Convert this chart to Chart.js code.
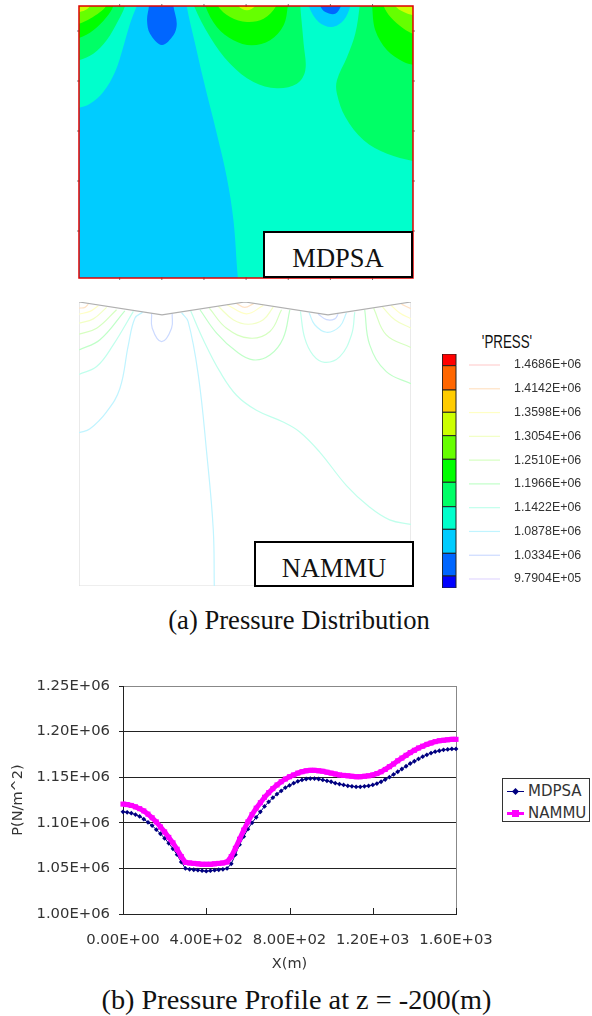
<!DOCTYPE html>
<html>
<head>
<meta charset="utf-8">
<title>Pressure distribution and profile</title>
<script src="https://cdn.jsdelivr.net/npm/chart.js@4"></script>
<style>
    html, body { margin: 0; padding: 0; background: #fff; }
    #page { position: relative; width: 592px; height: 1016px; overflow: hidden; }
    canvas { position: absolute; }
    .tag, .caption, #press, #legend { position: absolute; }
    .tag {
        box-sizing: border-box;
        background: #fff;
        border: 2px solid #000;
        font-family: "Liberation Serif", serif;
        font-size: 26.5px;
        text-align: center;
        color: #111;
    }
    .caption {
        left: 0;
        font-family: "Liberation Serif", serif;
        font-size: 26.6px;
        text-align: center;
        white-space: nowrap;
        color: #111;
    }
    #press {
        left: 467px; top: 332px; width: 80px;
        font-family: "Liberation Sans", sans-serif;
        font-size: 18px;
        transform: scaleX(0.74);
        text-align: center;
        color: #111;
    }
    #legend {
        box-sizing: border-box;
        left: 502px; top: 778px; width: 88px; height: 44px;
        border: 1px solid #333;
        font-family: "DejaVu Sans", sans-serif;
        font-size: 15px;
        color: #333;
    }
    #legend .row { position: absolute; left: 25px; white-space: nowrap; line-height: 18px; }
    #legend i { position: absolute; display: block; }
</style>
</head>
<body>
<div id="page">
    <canvas id="mdpsa-chart" width="338" height="276" style="left:77px;top:4px"></canvas>
    <div class="tag" style="left:263px;top:231px;width:150px;height:47px;line-height:51px">MDPSA</div>

    <canvas id="nammu-chart" width="336" height="288" style="left:77px;top:300px"></canvas>
    <div class="tag" style="left:254px;top:541px;width:160px;height:46px;line-height:50px">NAMMU</div>

    <div id="press">'PRESS'</div>
    <canvas id="scale-chart" width="149" height="236" style="left:441px;top:353px"></canvas>

    <div class="caption" style="top:605px;width:598px">(a) Pressure Distribution</div>

    <canvas id="profile-chart" width="500" height="310" style="left:0;top:670px"></canvas>
    <div id="legend">
        <i style="left:4px;top:12px;width:17px;height:1px;background:#000080"></i>
        <i style="left:10px;top:10px;width:5px;height:5px;background:#000080;transform:rotate(45deg)"></i>
        <div class="row" style="top:3px">MDPSA</div>
        <i style="left:4px;top:33px;width:17px;height:3px;background:#ff00ff"></i>
        <i style="left:9px;top:31px;width:7px;height:7px;background:#ff00ff"></i>
        <div class="row" style="top:25px">NAMMU</div>
    </div>

    <div class="caption" style="top:984px;width:593px;font-size:28.3px">(b) Pressure Profile at z = -200(m)</div>
</div>

<script>
// ---- data ----

// Profile at z = -200, one value every 20 m
const profileX = [];
for (let i = 0; i <= 80; i++) {
    profileX.push(i * 20);
}

const mdpsaValues = [
    1112000, 1111500, 1110500, 1109000, 1107000, 1104000, 1100500, 1097000, 1092500, 1088000,
    1083000, 1077500, 1071500, 1065000, 1057000, 1050000, 1049000, 1048500, 1048000, 1047500,
    1047000, 1047500, 1048000, 1048500, 1049000, 1050000, 1055000, 1065000, 1076000, 1085000,
    1093000, 1100000, 1106000, 1112000, 1118000, 1123000, 1127500, 1131500, 1135000, 1138500,
    1141000, 1143500, 1145500, 1147000, 1148000, 1148500, 1148500, 1148000, 1147000, 1146000,
    1145000, 1143500, 1142500, 1141500, 1140500, 1140000, 1139500, 1139500, 1140000, 1140500,
    1141500, 1143000, 1145000, 1147500, 1150000, 1153000, 1156000, 1159000, 1162000, 1165000,
    1167500, 1170000, 1172500, 1174500, 1176500, 1178000, 1179000, 1180000, 1180500, 1181000,
    1181000
];

const nammuValues = [
    1120500, 1120000, 1119000, 1117500, 1115500, 1113000, 1109500, 1105500, 1101000, 1095500,
    1090000, 1084000, 1078000, 1071000, 1063000, 1056500, 1056000, 1055500, 1055000, 1054500,
    1054500, 1054500, 1055000, 1055500, 1056000, 1057000, 1063000, 1072000, 1082000, 1092000,
    1101000, 1109000, 1116000, 1122000, 1128000, 1133000, 1137500, 1141500, 1145000, 1148000,
    1150500, 1152500, 1154500, 1156000, 1157000, 1157500, 1157500, 1157000, 1156500, 1155500,
    1154500, 1153500, 1152500, 1152000, 1151500, 1151000, 1150500, 1150500, 1151000, 1151500,
    1152500, 1154000, 1156000, 1158500, 1161500, 1164500, 1168000, 1171000, 1174000, 1177000,
    1179500, 1182000, 1184000, 1186000, 1187500, 1189000, 1190000, 1190500, 1191000, 1191500,
    1191500
];

// Pressure levels of the colour scale
const levels = [979040, 1033400, 1087800, 1142200, 1196600, 1251000, 1305400, 1359800, 1414200, 1468600];
const levelLabels = ['9.7904E+05', '1.0334E+06', '1.0878E+06', '1.1422E+06', '1.1966E+06',
    '1.2510E+06', '1.3054E+06', '1.3598E+06', '1.4142E+06', '1.4686E+06'];
// the colour bar is drawn a little out of step with the labels in the picture
const bandEdges = [958450, 985900, 1037800, 1092700, 1144400, 1200300, 1252900, 1306900, 1360400, 1411400, 1467000, 1493760];
const bandColors = ['#0000ff', '#0066ff', '#00ccff', '#00ffcc', '#00ff66', '#00ff00',
    '#66ff00', '#ccff00', '#ffcc00', '#ff6600', '#ff0000'];
const levelLineColors = ['#e2d8ff', '#ccdaff', '#c0f4ff', '#c0ffec', '#c0ffc8', '#d6ffc0',
    '#f2ffc4', '#ffffc4', '#ffe2c4', '#ffd0d0'];

// MDPSA filled contours, [x, z] in m
const fullDomain = [[-30, 30], [1630, 30], [1630, -1130], [-30, -1130]];
const blueRegion = [[281, 30], [518, 30], [518, 0], [558, -151], [598, -297], [661, -511], [708, -684], [740, -857], [761, -1088], [770, -1130], [-30, -1130], [-30, -407], [7, -407], [59, -391], [122, -344], [178, -264], [217, -164], [249, -71], [281, 0]];
const leftBand1 = [[-30, 30], [225, 30], [225, 0], [194, -57], [138, -137], [75, -191], [7, -217], [-30, -220]];
const leftBand2 = [[-30, 30], [170, 30], [170, 0], [138, -44], [75, -97], [7, -128], [-30, -130]];
const leftBand3 = [[-30, 30], [135, 30], [135, 0], [107, -24], [59, -51], [7, -71], [-30, -75]];
const leftBand4 = [[-30, 30], [59, 30], [59, 0], [35, -17], [7, -24], [-30, -26]];
const lowBubble = [[339, 30], [339, 0], [330, -57], [344, -111], [400, -156], [455, -117], [471, -71], [455, 0], [455, 30]];
const midBand1 = [[553, 30], [553, 0], [629, -124], [724, -231], [835, -304], [946, -329], [1041, -311], [1081, -257], [1073, -151], [1057, 0], [1057, 30]];
const midBand2 = [[606, 30], [606, 0], [661, -84], [740, -137], [827, -157], [914, -137], [978, -77], [998, 0], [998, 30]];
const midBand3 = [[666, 30], [666, 0], [724, -44], [804, -64], [883, -51], [943, 0], [943, 30]];
const midBand4 = [[764, 30], [764, 0], [804, -17], [843, 0], [843, 30]];
const dipBand1 = [[1097, 30], [1097, 0], [1144, -64], [1207, -84], [1263, -57], [1295, 0], [1295, 30]];
const dipBand2 = [[1152, 30], [1152, 0], [1176, -24], [1223, -31], [1250, 0], [1250, 30]];
const rightBand1 = [[1339, 30], [1339, 0], [1318, -111], [1279, -204], [1231, -297], [1231, -351], [1271, -444], [1358, -537], [1469, -591], [1592, -620], [1630, -625], [1630, 30]];
const rightBand2 = [[1398, 30], [1398, 0], [1413, -97], [1469, -177], [1548, -224], [1592, -235], [1630, -238], [1630, 30]];
const rightBand3 = [[1453, 30], [1453, 0], [1485, -44], [1548, -91], [1592, -111], [1630, -118], [1630, 30]];
const rightBand4 = [[1508, 30], [1508, 0], [1548, -24], [1592, -37], [1630, -42], [1630, 30]];

const mdpsaRegions = [
    [fullDomain, '#00ffcc'], [blueRegion, '#00ccff'], [lowBubble, '#0066ff'],
    [leftBand1, '#00ff66'], [leftBand2, '#00ff00'], [leftBand3, '#66ff00'], [leftBand4, '#ccff00'],
    [midBand1, '#00ff66'], [midBand2, '#00ff00'], [midBand3, '#66ff00'], [midBand4, '#ccff00'],
    [dipBand1, '#00ccff'], [dipBand2, '#0066ff'],
    [rightBand1, '#00ff66'], [rightBand2, '#00ff00'], [rightBand3, '#66ff00'], [rightBand4, '#ccff00']
];

// NAMMU contour lines, [x, z] in m
const surface = [[0, 0], [400, -48], [800, 0], [1200, -48], [1600, 0]];
const domainEdge = [[0, 0], [0, -1060], [1600, -1060], [1600, 0]];
const leftLine1 = [[0, -23], [29, -20], [45, -8]];
const leftLine2 = [[0, -45], [53, -35], [93, -14]];
const leftLine3 = [[0, -79], [69, -63], [133, -20]];
const leftLine4 = [[0, -120], [85, -98], [181, -29]];
const leftLine5 = [[0, -179], [101, -141], [221, -33]];
const leftLine6 = [[0, -270], [85, -241], [165, -160], [262, -35]];
const leftLine7 = [[0, -488], [53, -473], [133, -410], [197, -323], [238, -160], [270, -60], [307, -38]];
const bubbleLine = [[350, -43], [353, -98], [398, -148], [446, -98], [449, -43]];
const centerLine = [[494, -40], [526, -73], [575, -273], [615, -560], [647, -848], [652, -1060]];
const longLine = [[538, -33], [599, -141], [679, -260], [759, -348], [855, -404], [984, -448], [1064, -485], [1160, -560], [1289, -685], [1401, -766], [1497, -813], [1600, -830]];
const midLine1 = [[583, -29], [663, -116], [759, -185], [839, -216], [920, -198], [984, -135], [1016, -29]];
const midLine2 = [[628, -23], [711, -98], [823, -135], [920, -110], [976, -29]];
const midLine3 = [[671, -16], [743, -66], [815, -83], [888, -66], [936, -19]];
const midLine4 = [[714, -10], [807, -44], [888, -13]];
const midLine5 = [[759, -5], [799, -20], [843, -5]];
const dipLine1 = [[1067, -35], [1088, -135], [1128, -198], [1184, -225], [1257, -204], [1313, -123], [1329, -38]];
const dipLine2 = [[1109, -40], [1136, -85], [1193, -113], [1257, -91], [1289, -40]];
const dipLine3 = [[1152, -45], [1193, -66], [1233, -63], [1249, -44]];
const rightLine1 = [[1377, -29], [1401, -160], [1481, -260], [1600, -305]];
const rightLine2 = [[1420, -23], [1481, -123], [1600, -170]];
const rightLine3 = [[1462, -18], [1522, -66], [1600, -98]];
const rightLine4 = [[1505, -13], [1546, -41], [1600, -63]];
const rightLine5 = [[1554, -8], [1600, -25]];

const nammuLines = [
    [leftLine1, 8], [leftLine2, 7], [leftLine3, 6], [leftLine4, 5], [leftLine5, 4], [leftLine6, 3], [leftLine7, 2],
    [bubbleLine, 1], [centerLine, 2], [longLine, 3],
    [midLine1, 4], [midLine2, 5], [midLine3, 6], [midLine4, 7], [midLine5, 8],
    [dipLine1, 3], [dipLine2, 2], [dipLine3, 1],
    [rightLine1, 4], [rightLine2, 5], [rightLine3, 6], [rightLine4, 7], [rightLine5, 8]
];

// ---- helpers ----

function toPoints(list) {
    return list.map(p => ({ x: p[0], y: p[1] }));
}

function regionDataset(list, color) {
    return {
        data: toPoints(list),
        showLine: true,
        fill: 'shape',
        backgroundColor: color,
        borderWidth: 0,
        pointRadius: 0,
        tension: 0.35
    };
}

function lineDataset(list, color, tension) {
    return {
        data: toPoints(list),
        showLine: true,
        fill: false,
        borderColor: color,
        borderWidth: 1.2,
        pointRadius: 0,
        tension: tension
    };
}

const hiddenLegend = { legend: { display: false }, tooltip: { enabled: false } };

// ---- MDPSA panel ----

// red frame with the small grey tick marks
const framePlugin = {
    id: 'frame',
    afterDatasetsDraw(chart) {
        const ctx = chart.ctx;
        const a = chart.chartArea;
        ctx.save();
        ctx.strokeStyle = '#777';
        ctx.lineWidth = 1;
        ctx.beginPath();
        chart.scales.x.ticks.forEach(t => {
            const px = chart.scales.x.getPixelForValue(t.value);
            ctx.moveTo(px, a.top - 2);
            ctx.lineTo(px, a.top + 1);
            ctx.moveTo(px, a.bottom - 1);
            ctx.lineTo(px, a.bottom + 2);
        });
        chart.scales.y.ticks.forEach(t => {
            const py = chart.scales.y.getPixelForValue(t.value);
            ctx.moveTo(a.left - 2, py);
            ctx.lineTo(a.left + 1, py);
            ctx.moveTo(a.right - 1, py);
            ctx.lineTo(a.right + 2, py);
        });
        ctx.stroke();
        ctx.strokeStyle = '#e00000';
        ctx.lineWidth = 1.5;
        ctx.strokeRect(a.left, a.top, a.right - a.left, a.bottom - a.top);
        ctx.restore();
    }
};

// datasets paint last to first, so the base goes at the end of the list
const mdpsaChart = new Chart(document.getElementById('mdpsa-chart'), {
    type: 'scatter',
    data: { datasets: mdpsaRegions.map(r => regionDataset(r[0], r[1])).reverse() },
    options: {
        responsive: false,
        animation: false,
        layout: { padding: 2 },
        plugins: hiddenLegend,
        scales: {
            x: {
                display: false, min: 7, max: 1592,
                afterBuildTicks: s => { s.ticks = [200, 400, 600, 800, 1000, 1200, 1400].map(v => ({ value: v })); }
            },
            y: {
                display: false, min: -1088, max: 0,
                afterBuildTicks: s => { s.ticks = [-100, -300, -500, -700, -900].map(v => ({ value: v })); }
            }
        }
    },
    plugins: [framePlugin]
});

// ---- NAMMU panel ----

const nammuSets = [lineDataset(surface, '#b0b0b0', 0)];
nammuLines.forEach(l => nammuSets.push(lineDataset(l[0], levelLineColors[l[1]], 0.4)));
nammuSets.push(lineDataset(domainEdge, '#dddddd', 0));

const nammuChart = new Chart(document.getElementById('nammu-chart'), {
    type: 'scatter',
    data: { datasets: nammuSets },
    options: {
        responsive: false,
        animation: false,
        layout: { padding: 2 },
        plugins: hiddenLegend,
        scales: {
            x: { display: false, min: 0, max: 1600 },
            y: { display: false, min: -1060, max: 0 }
        }
    }
});

// ---- colour scale with its level lines ----

const scaleSets = [];
bandColors.forEach((color, i) => {
    const low = bandEdges[i];
    const high = bandEdges[i + 1];
    scaleSets.push({
        data: toPoints([[0, low], [14, low], [14, high], [0, high], [0, low]]),
        showLine: true,
        fill: 'shape',
        backgroundColor: color,
        borderColor: '#222',
        borderWidth: 1,
        pointRadius: 0
    });
});
levels.forEach((level, i) => {
    scaleSets.push(lineDataset([[27, level], [58, level]], levelLineColors[i], 0));
});

const scaleChart = new Chart(document.getElementById('scale-chart'), {
    type: 'scatter',
    data: { datasets: scaleSets },
    options: {
        responsive: false,
        animation: false,
        layout: { padding: { left: 1, top: 1, bottom: 1, right: 0 } },
        plugins: hiddenLegend,
        scales: {
            x: { display: false, min: 0, max: 63 },
            y: {
                position: 'right',
                min: bandEdges[0],
                max: bandEdges[bandEdges.length - 1],
                afterFit: s => { s.width = 85; s.paddingTop = 0; s.paddingBottom = 0; },
                afterBuildTicks: s => { s.ticks = levels.map(v => ({ value: v })); },
                grid: { display: false, drawTicks: false },
                border: { display: false },
                ticks: {
                    padding: 9,
                    color: '#333',
                    font: { family: 'Liberation Sans', size: 12.4 },
                    callback: v => levelLabels[levels.indexOf(v)]
                }
            }
        }
    }
});

// ---- pressure profile ----

// short x tick marks point up into the plot, right edge is grey
const profileFramePlugin = {
    id: 'profileFrame',
    beforeDatasetsDraw(chart) {
        const ctx = chart.ctx;
        const a = chart.chartArea;
        ctx.save();
        ctx.strokeStyle = '#888';
        ctx.lineWidth = 1;
        ctx.beginPath();
        ctx.moveTo(a.right + 0.5, a.top);
        ctx.lineTo(a.right + 0.5, a.bottom);
        ctx.stroke();
        ctx.strokeStyle = '#222';
        ctx.beginPath();
        chart.scales.x.ticks.forEach(t => {
            const px = Math.round(chart.scales.x.getPixelForValue(t.value)) + 0.5;
            ctx.moveTo(px, a.bottom);
            ctx.lineTo(px, a.bottom - 6);
        });
        ctx.stroke();
        ctx.restore();
    }
};

const profileFont = { family: 'DejaVu Sans', size: 14.8 };

const profileChart = new Chart(document.getElementById('profile-chart'), {
    type: 'line',
    data: {
        labels: profileX,
        datasets: [
            {
                label: 'MDPSA',
                data: mdpsaValues,
                order: 1,
                borderColor: '#000080',
                backgroundColor: '#000080',
                borderWidth: 1,
                pointStyle: 'rectRot',
                pointRadius: 2.4,
                pointBorderWidth: 0,
                clip: false
            },
            {
                label: 'NAMMU',
                data: nammuValues,
                order: 0,
                borderColor: '#ff00ff',
                backgroundColor: '#ff00ff',
                borderWidth: 5,
                pointStyle: 'rect',
                pointRadius: 3.6,
                pointBorderWidth: 0,
                clip: false
            }
        ]
    },
    options: {
        responsive: false,
        animation: false,
        layout: { padding: { top: 16, right: 44, left: 0, bottom: 0 } },
        plugins: hiddenLegend,
        scales: {
            x: {
                type: 'linear',
                min: 0,
                max: 1600,
                afterFit: s => { s.height = 66; s.paddingLeft = 0; s.paddingRight = 0; },
                grid: { display: false },
                border: { color: '#222' },
                ticks: {
                    stepSize: 400,
                    padding: 9,
                    maxRotation: 0,
                    color: '#333',
                    font: profileFont,
                    callback: v => v.toExponential(2).replace('e+', 'E+0')
                },
                title: {
                    display: true,
                    text: 'X(m)',
                    color: '#333',
                    font: { family: 'DejaVu Sans', size: 14.5 },
                    padding: { top: 0, bottom: 7 }
                }
            },
            y: {
                min: 1000000,
                max: 1250000,
                afterFit: s => { s.width = 123; s.paddingTop = 0; s.paddingBottom = 0; },
                grid: {
                    color: c => (c.tick && c.tick.value === 1250000 ? '#888' : '#222'),
                    tickColor: '#222',
                    tickLength: 4
                },
                border: { color: '#222' },
                ticks: {
                    stepSize: 50000,
                    padding: 9,
                    color: '#333',
                    font: profileFont,
                    callback: v => v.toExponential(2).replace('e+', 'E+0')
                },
                title: {
                    display: true,
                    text: 'P(N/m^2)',
                    color: '#333',
                    font: { family: 'DejaVu Sans', size: 14.5 },
                    padding: { top: 10, bottom: 8 }
                }
            }
        }
    },
    plugins: [profileFramePlugin]
});
</script>
</body>
</html>
